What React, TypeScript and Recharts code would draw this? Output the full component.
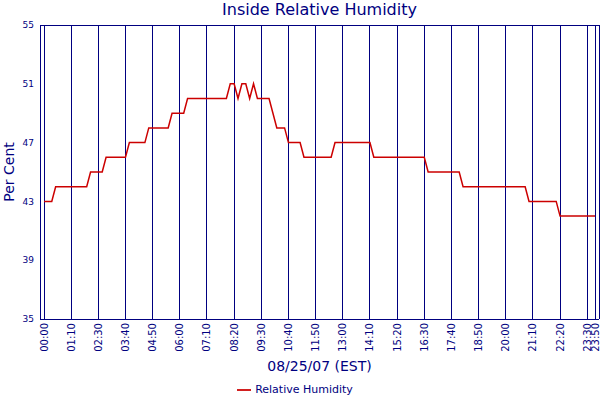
import { LineChart, Line, XAxis, YAxis, CartesianGrid, Legend } from "recharts";

const NAVY = "#000080";
const FONT = "'DejaVu Sans', Verdana, sans-serif";

// 10 minute readings for 08/25/07 (one reading missing around 01:50)
const times = [
  "00:00", "00:10", "00:20", "00:30", "00:40", "00:50",
  "01:00", "01:10", "01:20", "01:30", "01:40",
  "02:00", "02:10", "02:20", "02:30", "02:40", "02:50",
  "03:00", "03:10", "03:20", "03:30", "03:40", "03:50",
  "04:00", "04:10", "04:20", "04:30", "04:40", "04:50",
  "05:00", "05:10", "05:20", "05:30", "05:40", "05:50",
  "06:00", "06:10", "06:20", "06:30", "06:40", "06:50",
  "07:00", "07:10", "07:20", "07:30", "07:40", "07:50",
  "08:00", "08:10", "08:20", "08:30", "08:40", "08:50",
  "09:00", "09:10", "09:20", "09:30", "09:40", "09:50",
  "10:00", "10:10", "10:20", "10:30", "10:40", "10:50",
  "11:00", "11:10", "11:20", "11:30", "11:40", "11:50",
  "12:00", "12:10", "12:20", "12:30", "12:40", "12:50",
  "13:00", "13:10", "13:20", "13:30", "13:40", "13:50",
  "14:00", "14:10", "14:20", "14:30", "14:40", "14:50",
  "15:00", "15:10", "15:20", "15:30", "15:40", "15:50",
  "16:00", "16:10", "16:20", "16:30", "16:40", "16:50",
  "17:00", "17:10", "17:20", "17:30", "17:40", "17:50",
  "18:00", "18:10", "18:20", "18:30", "18:40", "18:50",
  "19:00", "19:10", "19:20", "19:30", "19:40", "19:50",
  "20:00", "20:10", "20:20", "20:30", "20:40", "20:50",
  "21:00", "21:10", "21:20", "21:30", "21:40", "21:50",
  "22:00", "22:10", "22:20", "22:30", "22:40", "22:50",
  "23:00", "23:10", "23:20", "23:30", "23:40", "23:50"
];

const humidity = [
  43, 43, 43, 44, 44, 44, 44, 44, 44, 44, 44, 44,
  45, 45, 45, 45, 46, 46, 46, 46, 46, 46,
  47, 47, 47, 47, 47, 48, 48, 48, 48, 48, 48,
  49, 49, 49, 49, 50, 50, 50, 50, 50, 50, 50, 50, 50, 50, 50,
  51, 51, 50, 51, 51, 50, 51, 50, 50, 50, 50,
  49, 48, 48, 48, 47, 47, 47, 47,
  46, 46, 46, 46, 46, 46, 46, 46,
  47, 47, 47, 47, 47, 47, 47, 47, 47, 47,
  46, 46, 46, 46, 46, 46, 46, 46, 46, 46, 46, 46, 46, 46,
  45, 45, 45, 45, 45, 45, 45, 45, 45,
  44, 44, 44, 44, 44, 44, 44, 44, 44, 44, 44, 44, 44, 44, 44, 44, 44,
  43, 43, 43, 43, 43, 43, 43, 43,
  42, 42, 42, 42, 42, 42, 42, 42, 42, 42
];

const xTicks = [
  "00:00", "01:10", "02:30", "03:40", "04:50", "06:00", "07:10", "08:20",
  "09:30", "10:40", "11:50", "13:00", "14:10", "15:20", "16:30", "17:40",
  "18:50", "20:00", "21:10", "22:20", "23:30", "23:50"
];
const yTicks = [35, 39, 43, 47, 51, 55];

const data = times.map((time, i) => ({ time, humidity: humidity[i] }));

const TimeTick = (props: any) => {
  const { x, y, payload } = props;
  return (
    <text
      x={x}
      y={y}
      dy="0.35em"
      transform={`rotate(-90, ${x}, ${y})`}
      textAnchor="end"
      fill={NAVY}
      fontSize={10}
      fontFamily={FONT}
    >
      {payload.value}
    </text>
  );
};

const PerCentLabel = (props: any) => {
  const { viewBox } = props;
  const cx = viewBox.x + 9;
  const cy = viewBox.y + viewBox.height / 2;
  return (
    <text
      x={cx}
      y={cy}
      transform={`rotate(-90, ${cx}, ${cy})`}
      textAnchor="middle"
      dominantBaseline="central"
      fill={NAVY}
      fontSize={14}
      fontFamily={FONT}
    >
      Per Cent
    </text>
  );
};

const axisLine = { stroke: NAVY, shapeRendering: "crispEdges" };

export default function App() {
  return (
    <div style={{ position: "absolute", left: 0, top: 0, width: 600, height: 400, fontFamily: FONT, background: "#fff" }}>
      <div
        style={{
          position: "absolute",
          left: 40,
          top: 0,
          width: 559,
          height: 20,
          lineHeight: "20px",
          textAlign: "center",
          fontSize: 16,
          color: NAVY
        }}
      >
        Inside Relative Humidity
      </div>
      <LineChart width={600} height={400} data={data} margin={{ top: 25, right: 0, bottom: 0, left: 0 }}>
        <CartesianGrid stroke={NAVY} strokeWidth={1} shapeRendering="crispEdges" />
        <XAxis
          dataKey="time"
          ticks={xTicks}
          interval={0}
          padding={{ left: 4, right: 4 }}
          height={61}
          tickLine={false}
          tickSize={4}
          tickMargin={0}
          axisLine={axisLine}
          tick={<TimeTick />}
          label={{ value: "08/25/07 (EST)", position: "insideBottom", offset: 9, fill: NAVY, fontSize: 14, fontFamily: FONT }}
        />
        <YAxis
          yAxisId="left"
          domain={[35, 55]}
          ticks={yTicks}
          width={40}
          tickLine={false}
          tickSize={6}
          tickMargin={0}
          axisLine={axisLine}
          tick={{ fill: NAVY, fontSize: 9, fontFamily: FONT }}
          label={<PerCentLabel />}
        />
        <YAxis
          yAxisId="right"
          orientation="right"
          domain={[35, 55]}
          width={1}
          tick={false}
          tickLine={false}
          axisLine={axisLine}
        />
        <Legend
          verticalAlign="bottom"
          height={20}
          iconType="plainline"
          iconSize={14}
          wrapperStyle={{ fontSize: 11, fontFamily: FONT, lineHeight: "20px" }}
          formatter={(value) => <span style={{ color: NAVY }}>{value}</span>}
        />
        <Line
          yAxisId="left"
          type="linear"
          dataKey="humidity"
          name="Relative Humidity"
          stroke="#cc0000"
          strokeWidth={1.5}
          dot={false}
          isAnimationActive={false}
        />
      </LineChart>
    </div>
  );
}
